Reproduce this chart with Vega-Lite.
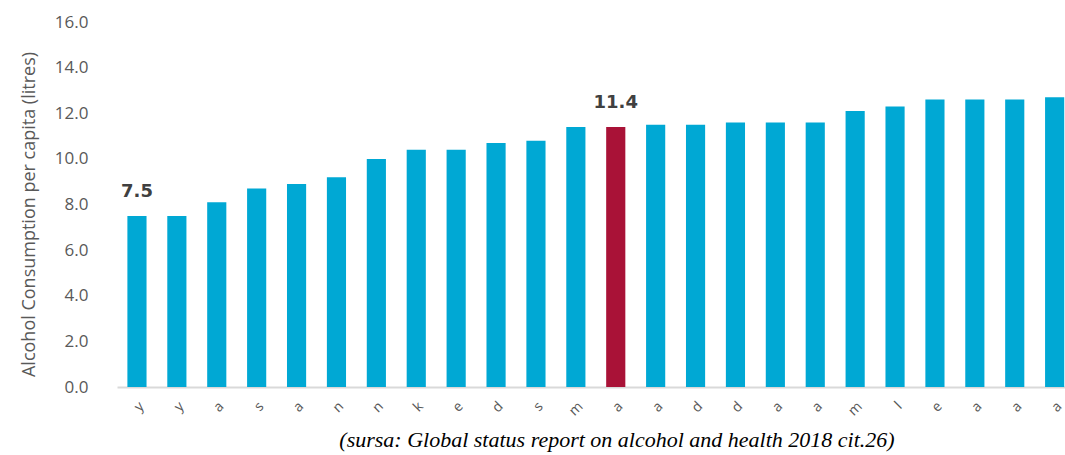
{
  "$schema": "https://vega.github.io/schema/vega-lite/v6.json",
  "width": 948,
  "height": 365,
  "autosize": {"type": "none"},
  "padding": {"left": 117, "top": 22, "right": 0, "bottom": 68},
  "background": "white",
  "title": {
    "text": "(sursa: Global status report on alcohol and health 2018 cit.26)",
    "orient": "bottom",
    "anchor": "middle",
    "font": "Liberation Serif",
    "fontStyle": "italic",
    "fontWeight": "normal",
    "fontSize": 22,
    "color": "#000000",
    "dx": 26,
    "offset": 12
  },
  "config": {"view": {"stroke": null}},
  "data": {
    "values": [
      {"country": "Italy", "value": 7.5, "highlight": false},
      {"country": "Norway", "value": 7.5, "highlight": false},
      {"country": "Malta", "value": 8.1, "highlight": false},
      {"country": "Netherlands", "value": 8.7, "highlight": false},
      {"country": "Croatia", "value": 8.9, "highlight": false},
      {"country": "Sweden", "value": 9.2, "highlight": false},
      {"country": "Spain", "value": 10.0, "highlight": false},
      {"country": "Denmark", "value": 10.4, "highlight": false},
      {"country": "Greece", "value": 10.4, "highlight": false},
      {"country": "Finland", "value": 10.7, "highlight": false},
      {"country": "Cyprus", "value": 10.8, "highlight": false},
      {"country": "United Kingdom", "value": 11.4, "highlight": false},
      {"country": "Romania", "value": 11.4, "highlight": true},
      {"country": "Slovakia", "value": 11.5, "highlight": false},
      {"country": "Switzerland", "value": 11.5, "highlight": false},
      {"country": "Poland", "value": 11.6, "highlight": false},
      {"country": "Estonia", "value": 11.6, "highlight": false},
      {"country": "Austria", "value": 11.6, "highlight": false},
      {"country": "Belgium", "value": 12.1, "highlight": false},
      {"country": "Portugal", "value": 12.3, "highlight": false},
      {"country": "France", "value": 12.6, "highlight": false},
      {"country": "Slovenia", "value": 12.6, "highlight": false},
      {"country": "Latvia", "value": 12.6, "highlight": false},
      {"country": "Bulgaria", "value": 12.7, "highlight": false}
    ]
  },
  "encoding": {
    "x": {
      "field": "country",
      "type": "nominal",
      "sort": null,
      "scale": {"paddingInner": 0.52, "paddingOuter": 0.14, "align": 0.93},
      "axis": {
        "title": null,
        "domainColor": "#d9d9d9",
        "domainWidth": 2,
        "ticks": false,
        "labelAngle": -45,
        "labelPadding": 12,
        "labelColor": "#595959",
        "labelFont": "Open Sans",
        "labelFontSize": 14,
        "labelExpr": "slice(datum.label, -1)"
      }
    },
    "y": {
      "field": "value",
      "type": "quantitative",
      "scale": {"domain": [0, 16], "nice": false},
      "axis": {
        "title": "Alcohol Consumption per capita (litres)",
        "values": [0, 2, 4, 6, 8, 10, 12, 14, 16],
        "format": ".1f",
        "domain": false,
        "ticks": false,
        "grid": false,
        "labelFont": "Open Sans",
        "labelFontSize": 17,
        "labelColor": "#595959",
        "labelPadding": 29,
        "titleFont": "Open Sans",
        "titleFontSize": 18,
        "titleFontWeight": "normal",
        "titleColor": "#595959",
        "titlePadding": 16,
        "titleY": 192
      }
    }
  },
  "layer": [
    {
      "mark": {"type": "bar"},
      "encoding": {
        "color": {
          "condition": {"test": "datum.highlight", "value": "#A91237"},
          "value": "#00A8D4"
        }
      }
    },
    {
      "transform": [{"filter": {"field": "country", "oneOf": ["Italy", "Romania"]}}],
      "mark": {
        "type": "text",
        "baseline": "alphabetic",
        "dy": -19,
        "font": "DejaVu Sans",
        "fontWeight": "bold",
        "fontSize": 18,
        "color": "#404040"
      },
      "encoding": {
        "text": {"field": "value", "type": "quantitative", "format": ".1f"}
      }
    }
  ]
}
